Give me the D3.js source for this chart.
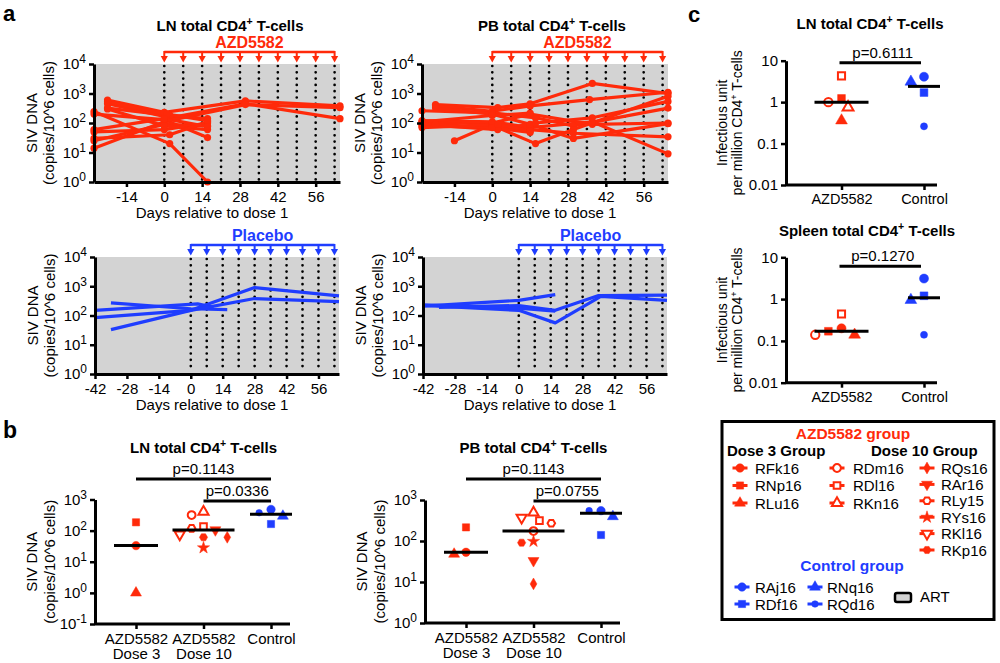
<!DOCTYPE html>
<html><head><meta charset="utf-8">
<script src="https://cdn.jsdelivr.net/npm/d3@7"></script>
<style>body{margin:0;background:#fff}</style>
</head><body>
<script>
// ---------------- DATA ----------------
const doseDays = [0,7,14,21,28,35,42,49,56,63];
const xTicksTop = [-14,0,14,28,42,56];
const xTicksBottom = [-42,-28,-14,0,14,28,42,56];
const yTicksA = [1,10,100,1000,10000];

// panel a: each series = [[day, copies per 10^6 cells], ...]
const lnAzdSeries = [
  [[-21,600],[0,230],[30,560],[65,380]],
  [[-21,450],[2,150],[30,450],[65,140]],
  [[-26,14],[0,110],[30,420],[65,330]],
  [[-26,245],[2,20],[16,1]],
  [[-26,200],[0,130],[16,32]],
  [[-21,320],[2,180],[16,140]],
  [[-26,50],[0,60],[16,100]],
  [[-26,25],[0,90],[16,80]],
  [[-21,300],[0,80],[16,60]],
  [[-26,30],[2,40],[16,110]],
  [[-21,520],[1,200],[16,120]],
  [[-26,60],[0,140],[16,76]]
];
const pbAzdSeries = [
  [[-21,420],[2,330],[14,450],[37,2200],[65,1000]],
  [[-21,380],[0,250],[14,380],[36,620],[65,1100]],
  [[-26,260],[0,220],[16,150],[30,80],[65,320]],
  [[-26,100],[0,100],[14,200],[37,90],[65,100]],
  [[-26,80],[2,70],[16,20],[30,60],[65,800]],
  [[-14,25],[0,90],[14,60],[30,45],[65,34]],
  [[-26,120],[0,110],[14,70],[37,110],[65,9]],
  [[-21,320],[0,200],[14,90],[30,30],[65,95]],
  [[-26,90],[2,60],[16,100],[37,150],[65,540]],
  [[-26,110],[0,180],[14,215]],
  [[-21,90],[0,70],[14,48]],
  [[-26,70],[2,90],[14,53]]
];
const lnPlaceboSeries = [
  [[-35,270],[0,170],[16,160]],
  [[-42,150],[3,250],[10,190]],
  [[-42,85],[0,150],[28,900],[65,470]],
  [[-35,33],[0,150],[28,380],[65,300]]
];
const pbPlaceboSeries = [
  [[-42,210],[0,330],[16,520]],
  [[-42,220],[0,150],[16,56],[36,450],[65,330]],
  [[-35,190],[0,220],[16,150],[35,480],[65,500]],
  [[-42,230],[0,180],[16,140]]
];

// panel b
const bCategories = ["AZD5582|Dose 3","AZD5582|Dose 10","Control"];
const bYTicksLN = [0.1,1,10,100,1000];
const bYTicksPB = [1,10,100,1000];
const lnDose3Animals = ["RNp16","RFk16","RLu16"];
const lnDose3Values = [185,33,1.0];
const lnDose10Animals = ["RKn16","RDm16","RDl16","RLy15","RAr16","RKl16","RKp16","RQs16","RYs16"];
const lnDose10Values = [405,316,134,118,105,76,61,61,28];
const lnControlAnimals = ["RAj16","RQd16","RNq16","RDf16"];
const lnControlValues = [480,375,294,163];
const pbDose3Animals = ["RNp16","RFk16","RLu16"];
const pbDose3Values = [215,53,48];
const pbDose10Animals = ["RKn16","RKl16","RDl16","RLy15","RDm16","RYs16","RKp16","RAr16","RQs16"];
const pbDose10Values = [490,370,315,270,175,98,91,33,9];
const pbControlAnimals = ["RAj16","RQd16","RNq16","RDf16"];
const pbControlValues = [550,550,395,140];
const lnPValues = ["p=0.1143","p=0.0336"];
const pbPValues = ["p=0.1143","p=0.0755"];

// panel c
const cCategories = ["AZD5582","Control"];
const cYTicks = [0.01,0.1,1,10];
const cLnAzdAnimals = ["RDl16","RNp16","RDm16","RKn16","RLu16"];
const cLnAzdValues = [4.3,1.23,1.0,0.75,0.36];
const cLnCtrlAnimals = ["RAj16","RNq16","RDf16","RQd16"];
const cLnCtrlValues = [4.1,3.1,1.7,0.26];
const cSpAzdAnimals = ["RDl16","RFk16","RNp16","RLu16","RDm16"];
const cSpAzdValues = [0.44,0.2,0.17,0.14,0.14];
const cSpCtrlAnimals = ["RAj16","RDf16","RNq16","RQd16"];
const cSpCtrlValues = [3.1,1.2,0.95,0.14];
const cLnP = "p=0.6111";
const cSpP = "p=0.1270";

// legend
const legendDose3 = ["RFk16","RNp16","RLu16"];
const legendDose10a = ["RDm16","RDl16","RKn16"];
const legendDose10b = ["RQs16","RAr16","RLy15","RYs16","RKl16","RKp16"];
const legendCtrlA = ["RAj16","RDf16"];
const legendCtrlB = ["RNq16","RQd16"];

// ---------------- STYLE ----------------
const RED = "#ff2a0a", BLUE = "#1f3dff", GRAY = "#d3d3d3";
const FONT = "'Liberation Sans', Arial, Helvetica, sans-serif";
const markerOf = {
  RFk16:["circle",true], RNp16:["square",true], RLu16:["triangle",true],
  RDm16:["circle",false], RDl16:["square",false], RKn16:["triangle",false],
  RQs16:["diamond",true], RAr16:["down",true], RLy15:["hex",false],
  RYs16:["star",true], RKl16:["down",false], RKp16:["hex",true],
  RAj16:["circle",true], RDf16:["square",true], RNq16:["triangle",true], RQd16:["smallcircle",true]
};
const colorOf = n => ["RAj16","RDf16","RNq16","RQd16"].includes(n) ? BLUE : RED;

function symbolPath(type, s){
  const k = s||1;
  switch(type){
    case "circle": return d3.symbol(d3.symbolCircle, 56*k)();
    case "smallcircle": return d3.symbol(d3.symbolCircle, 34*k)();
    case "square": return d3.symbol(d3.symbolSquare, 52*k)();
    case "triangle": return d3.symbol(d3.symbolTriangle, 52*k)();
    case "down": return d3.symbol(d3.symbolTriangle, 52*k)();
    case "diamond": return d3.symbol(d3.symbolDiamond, 40*k)();
    case "star": return d3.symbol(d3.symbolStar, 46*k)();
    case "hex": {
      const r = 4.1*Math.sqrt(k); const pts=[];
      for(let i=0;i<6;i++){const a=Math.PI/3*i; pts.push([r*Math.cos(a), r*Math.sin(a)]);}
      return "M"+pts.map(p=>p.join(",")).join("L")+"Z";
    }
  }
}
function drawMarker(g, name, cx, cy, k){
  const [type, filled] = markerOf[name];
  const col = colorOf(name);
  const scale = filled ? 1 : 0.85;
  g.append("path").attr("d", symbolPath(type, (k||1)*scale))
    .attr("transform", `translate(${cx},${cy})` + (type==="down" ? " rotate(180)" : ""))
    .attr("fill", filled ? col : "#fff").attr("stroke", col).attr("stroke-width", filled ? 0.5 : 2);
}

const svg = d3.select("body").append("svg").attr("width",1000).attr("height",663)
  .style("font-family", FONT);

function styleAxis(g, fs){
  g.select(".domain").attr("stroke","#000").attr("stroke-width",3);
  g.selectAll(".tick line").attr("stroke","#000").attr("stroke-width",2.5);
  g.selectAll(".tick text").attr("fill","#000").attr("font-size",fs||15).attr("font-family",FONT);
}
function powTicks(g){
  g.selectAll(".tick text").each(function(d){
    const e = Math.round(Math.log10(d));
    const t = d3.select(this); t.text(null);
    t.append("tspan").text("10");
    t.append("tspan").attr("dy","-0.5em").attr("font-size",12).text(e);
  });
}
function supText(g, x, y, pre, sup, post, size, weight, anchor, color){
  const t = g.append("text").attr("x",x).attr("y",y).attr("text-anchor",anchor||"middle")
    .attr("font-size",size).attr("font-weight",weight||"normal").attr("fill",color||"#000");
  t.append("tspan").text(pre);
  t.append("tspan").attr("dy",-size*0.42).attr("font-size",size*0.7).text(sup);
  t.append("tspan").attr("dy",size*0.42).text(post);
  return t;
}
function rotLabel(g, cx, cy, txt, size){
  return g.append("text").attr("transform",`translate(${cx+5},${cy}) rotate(-90)`)
    .attr("text-anchor","middle").attr("font-size",size||15).text(txt);
}

// ---------------- PANEL A ----------------
function panelA(o){
  const g = svg.append("g");
  const x = d3.scaleLinear().domain(o.xDomain).range([o.left,o.right]);
  const y = d3.scaleLog().domain([1,1e4]).range([o.bottom,o.top]);
  g.append("rect").attr("x",o.left).attr("y",o.top).attr("width",o.right-o.left)
    .attr("height",o.bottom-o.top).attr("fill",GRAY);
  g.selectAll(".dose").data(doseDays).join("line")
    .attr("x1",d=>x(d)).attr("x2",d=>x(d)).attr("y1",o.top+2).attr("y2",o.bottom-2)
    .attr("stroke","#000").attr("stroke-width",2.7).attr("stroke-linecap","round")
    .attr("stroke-dasharray","0,6.3");
  const line = d3.line().x(d=>x(d[0])).y(d=>y(d[1]));
  g.selectAll(".s").data(o.series).join("path").attr("d",line).attr("fill","none")
    .attr("stroke",o.color).attr("stroke-width",3.2).attr("stroke-linejoin","round");
  if(o.markers){
    g.selectAll(".m").data(o.series.flat()).join("circle")
      .attr("cx",d=>x(d[0])).attr("cy",d=>y(d[1])).attr("r",3.6).attr("fill",o.color);
  }
  const ax = g.append("g").attr("transform",`translate(0,${o.bottom})`)
    .call(d3.axisBottom(x).tickValues(o.xTicks).tickSize(5).tickSizeOuter(0).tickPadding(4).tickFormat(d=>String(d)));
  styleAxis(ax);
  const ay = g.append("g").attr("transform",`translate(${o.left},0)`)
    .call(d3.axisLeft(y).tickValues(yTicksA).tickSize(5).tickSizeOuter(0).tickPadding(3));
  styleAxis(ay); powTicks(ay);
  g.append("text").attr("x",(o.left+o.right)/2 - 5).attr("y",o.bottom+36).attr("text-anchor","middle")
    .attr("font-size",15).text("Days relative to dose 1");
  const yc = (o.top+o.bottom)/2;
  rotLabel(g, o.left-62, yc, "SIV DNA");
  rotLabel(g, o.left-45, yc, "(copies/10^6 cells)");
  // dosing bracket
  const by = o.top - 12;
  g.append("line").attr("x1",x(0)).attr("x2",x(63)).attr("y1",by).attr("y2",by)
    .attr("stroke",o.color).attr("stroke-width",2.5);
  g.selectAll(".arr").data(doseDays).join("line")
    .attr("x1",d=>x(d)).attr("x2",d=>x(d)).attr("y1",by-1).attr("y2",o.top-6)
    .attr("stroke",o.color).attr("stroke-width",2);
  g.selectAll(".head").data(doseDays).join("path")
    .attr("d",d=>`M${x(d)-3.6},${o.top-8}L${x(d)+3.6},${o.top-8}L${x(d)},${o.top-1.5}Z`)
    .attr("fill",o.color);
  g.append("text").attr("x",(x(0)+x(63))/2).attr("y",by-4).attr("text-anchor","middle")
    .attr("font-size",16).attr("font-weight","bold").attr("fill",o.color).text(o.label);
  if(o.title) supText(g, o.titleX, 31, o.title+" total CD4", "+", " T-cells", 15, "bold");
}

panelA({left:94,right:340,top:64,bottom:182,xDomain:[-26,65],xTicks:xTicksTop,series:lnAzdSeries,
  color:RED,markers:true,label:"AZD5582",title:"LN",titleX:230});
panelA({left:422,right:668,top:64,bottom:182,xDomain:[-26,65],xTicks:xTicksTop,series:pbAzdSeries,
  color:RED,markers:true,label:"AZD5582",title:"PB",titleX:552});
panelA({left:95,right:339,top:257,bottom:374,xDomain:[-42,65],xTicks:xTicksBottom,series:lnPlaceboSeries,
  color:BLUE,markers:false,label:"Placebo"});
panelA({left:423,right:667,top:257,bottom:374,xDomain:[-42,65],xTicks:xTicksBottom,series:pbPlaceboSeries,
  color:BLUE,markers:false,label:"Placebo"});

// ---------------- SWARM ----------------
function swarm(names, values, y, cx, d){
  const idx = values.map((v,i)=>i).sort((a,b)=>values[b]-values[a]);
  const placed = [];
  const out = new Array(values.length);
  idx.forEach(i=>{
    const py = y(values[i]);
    for(let k=0;k<40;k++){
      const off = (k===0)?0:(k%2? -1:1)*Math.ceil(k/2)*d/1.6;
      const px = cx+off;
      if(placed.every(p=>Math.hypot(p[0]-px,p[1]-py)>=d)){ placed.push([px,py]); out[i]=[px,py]; break; }
    }
  });
  return out;
}
function drawGroup(g, names, values, y, cx, half, d, k){
  const med = d3.median(values);
  const pos = swarm(names, values, y, cx, d);
  names.forEach((n,i)=>drawMarker(g, n, pos[i][0], pos[i][1], k));
  g.append("line").attr("x1",cx-half).attr("x2",cx+half).attr("y1",y(med)).attr("y2",y(med))
    .attr("stroke","#000").attr("stroke-width",3);
}

// ---------------- PANEL B ----------------
function panelB(o){
  const g = svg.append("g");
  const x = d3.scalePoint().domain(bCategories).range([o.c0,o.c2]);
  const y = d3.scaleLog().domain(o.yDomain).range([o.bottom,o.top]);
  const ay = g.append("g").attr("transform",`translate(${o.left},0)`)
    .call(d3.axisLeft(y).tickValues(o.yTicks).tickSize(5).tickSizeOuter(0).tickPadding(3));
  styleAxis(ay); powTicks(ay);
  const ax = g.append("g").attr("transform",`translate(0,${o.bottom})`)
    .call(d3.axisBottom(x).tickSize(5).tickSizeOuter(0).tickPadding(4));
  styleAxis(ax);
  ax.select(".domain").attr("d",`M${o.left},0H${o.right}`);
  ax.selectAll(".tick text").each(function(d){
    const t=d3.select(this); const parts=d.split("|"); t.text(null);
    parts.forEach((p,i)=>t.append("tspan").attr("x",0).attr("dy",i?"1.0em":"0.71em").text(p));
  });
  const yc=(o.top+o.bottom)/2;
  rotLabel(g, o.left-63, yc, "SIV DNA");
  rotLabel(g, o.left-45, yc, "(copies/10^6 cells)");
  drawGroup(g, o.d3a, o.d3v, y, x(bCategories[0]), 22, 9.5);
  drawGroup(g, o.d10a, o.d10v, y, x(bCategories[1]), 31, 9.5);
  drawGroup(g, o.ca, o.cv, y, x(bCategories[2]), 21, 9.5);
  supText(g, (x(bCategories[0])+x(bCategories[2]))/2, 453, o.title+" total CD4", "+", " T-cells", 15, "bold");
  // p-value bars
  const b1=479, b2=501;
  g.append("line").attr("x1",x(bCategories[0])).attr("x2",x(bCategories[2])).attr("y1",b1).attr("y2",b1)
    .attr("stroke","#000").attr("stroke-width",3);
  g.append("text").attr("x",(x(bCategories[0])+x(bCategories[2]))/2).attr("y",b1-5).attr("text-anchor","middle")
    .attr("font-size",15).text(o.p[0]);
  g.append("line").attr("x1",x(bCategories[1])).attr("x2",x(bCategories[2])).attr("y1",b2).attr("y2",b2)
    .attr("stroke","#000").attr("stroke-width",3);
  g.append("text").attr("x",(x(bCategories[1])+x(bCategories[2]))/2).attr("y",b2-5).attr("text-anchor","middle")
    .attr("font-size",15).text(o.p[1]);
}
panelB({left:95,right:290,c0:136,c2:271,top:499.5,bottom:624,yDomain:[0.1,1000],yTicks:bYTicksLN,title:"LN",
  d3a:lnDose3Animals,d3v:lnDose3Values,d10a:lnDose10Animals,d10v:lnDose10Values,ca:lnControlAnimals,cv:lnControlValues,p:lnPValues});
panelB({left:425,right:620,c0:466,c2:601,top:500,bottom:623,yDomain:[1,1000],yTicks:bYTicksPB,title:"PB",
  d3a:pbDose3Animals,d3v:pbDose3Values,d10a:pbDose10Animals,d10v:pbDose10Values,ca:pbControlAnimals,cv:pbControlValues,p:pbPValues});

// ---------------- PANEL C ----------------
function panelC(o){
  const g = svg.append("g");
  const x = d3.scalePoint().domain(cCategories).range([841.5,924]);
  const y = d3.scaleLog().domain([0.01,10]).range([o.bottom,o.top]);
  const ay = g.append("g").attr("transform",`translate(786,0)`)
    .call(d3.axisLeft(y).tickValues(cYTicks).tickSize(5).tickSizeOuter(0).tickPadding(3).tickFormat(d=>String(d)));
  styleAxis(ay);
  const ax = g.append("g").attr("transform",`translate(0,${o.bottom})`)
    .call(d3.axisBottom(x).tickSize(5).tickSizeOuter(0).tickPadding(4));
  styleAxis(ax, 14.5);
  ax.select(".domain").attr("d",`M786,0H937`);
  const yc=(o.top+o.bottom)/2;
  rotLabel(g, 722, yc, "Infectious unit", 14);
  const t = g.append("text").attr("transform",`translate(${742},${yc}) rotate(-90)`)
    .attr("text-anchor","middle").attr("font-size",14);
  t.append("tspan").text("per million CD4");
  t.append("tspan").attr("dy",-5).attr("font-size",9).text("+");
  t.append("tspan").attr("dy",5).text(" T-cells");
  drawGroup(g, o.aa, o.av, y, x("AZD5582"), 27, 10.5, 1.15);
  drawGroup(g, o.ca, o.cv, y, x("Control"), 16, 10.5, 1.15);
  supText(g, o.titleX, o.titleY, o.title+" total CD4", "+", " T-cells", 15, "bold");
  const by = o.top + 2 + (o.pOffset||0);
  g.append("line").attr("x1",x("AZD5582")-2).attr("x2",x("Control")-3).attr("y1",by).attr("y2",by)
    .attr("stroke","#000").attr("stroke-width",3);
  g.append("text").attr("x",(x("AZD5582")+x("Control"))/2).attr("y",by-5).attr("text-anchor","middle")
    .attr("font-size",15).text(o.p);
}
panelC({top:60.7,bottom:185,aa:cLnAzdAnimals,av:cLnAzdValues,ca:cLnCtrlAnimals,cv:cLnCtrlValues,
  title:"LN",titleX:870,titleY:29,p:cLnP});
panelC({top:257.3,bottom:382.7,aa:cSpAzdAnimals,av:cSpAzdValues,ca:cSpCtrlAnimals,cv:cSpCtrlValues,
  title:"Spleen",titleX:867,titleY:236,p:cSpP,pOffset:7});

// ---------------- LEGEND ----------------
(function(){
  const g = svg.append("g");
  g.append("rect").attr("x",722).attr("y",421.5).attr("width",272).attr("height",198)
    .attr("fill","none").attr("stroke","#000").attr("stroke-width",3);
  g.append("text").attr("x",853).attr("y",439).attr("text-anchor","middle").attr("font-size",15.5)
    .attr("font-weight","bold").attr("fill",RED).text("AZD5582 group");
  g.append("text").attr("x",727).attr("y",456).attr("font-size",15).attr("font-weight","bold").text("Dose 3 Group");
  g.append("text").attr("x",871).attr("y",456).attr("font-size",15).attr("font-weight","bold").text("Dose 10 Group");
  g.append("text").attr("x",852).attr("y",571).attr("text-anchor","middle").attr("font-size",15.5)
    .attr("font-weight","bold").attr("fill",BLUE).text("Control group");
  function col(names, mx, tx, y0, step){
    names.forEach((n,i)=>{
      const cy = y0 + i*step;
      g.append("line").attr("x1",mx-7.5).attr("x2",mx+7.5).attr("y1",cy).attr("y2",cy)
        .attr("stroke",colorOf(n)).attr("stroke-width",3);
      drawMarker(g, n, mx, cy, 1);
      g.append("text").attr("x",tx).attr("y",cy+5.5).attr("font-size",15).text(n);
    });
  }
  col(legendDose3, 740, 755, 468, 17.5);
  col(legendDose10a, 837, 853, 468, 17.5);
  col(legendDose10b, 927, 941, 468, 16.4);
  col(legendCtrlA, 742, 755, 587, 17);
  col(legendCtrlB, 815, 827, 587, 17);
  g.append("rect").attr("x",895).attr("y",593).attr("width",16).attr("height",9).attr("rx",2)
    .attr("fill",GRAY).attr("stroke","#000").attr("stroke-width",2.5);
  g.append("text").attr("x",920).attr("y",602).attr("font-size",15).text("ART");
})();

// panel letters
svg.append("text").attr("x",3).attr("y",21).attr("font-size",22).attr("font-weight","bold").text("a");
svg.append("text").attr("x",3).attr("y",438).attr("font-size",23).attr("font-weight","bold").text("b");
svg.append("text").attr("x",688).attr("y",22).attr("font-size",22).attr("font-weight","bold").text("c");
</script>
</body></html>
